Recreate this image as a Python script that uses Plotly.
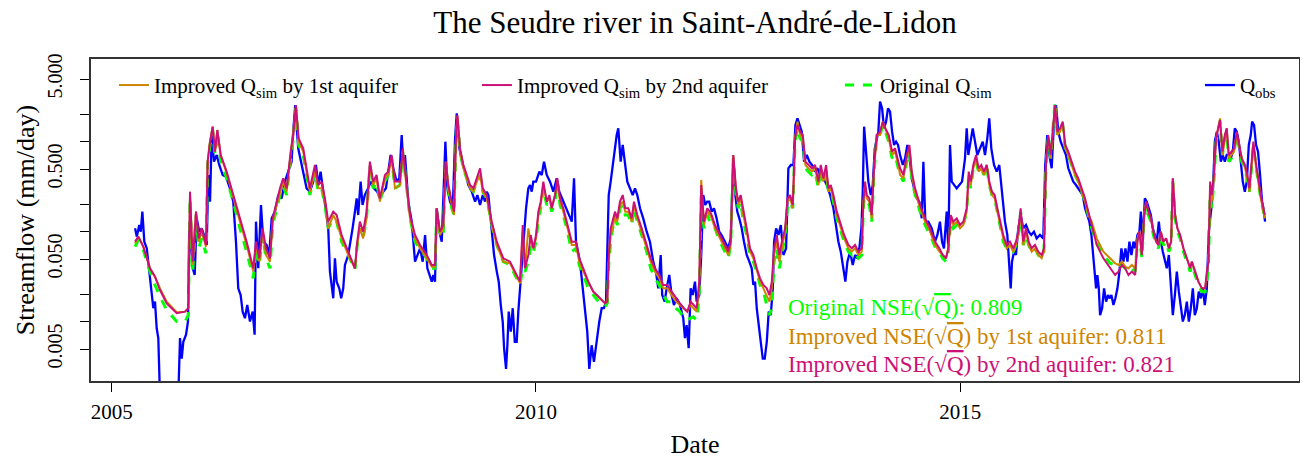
import plotly.graph_objects as go
import pandas as pd

# ---------------- data (decimal years, streamflow in mm/day) ----------------
sim_t = [2005.275, 2005.314, 2005.372, 2005.451, 2005.510, 2005.569, 2005.648, 2005.766, 2005.864, 2005.903,
         2005.923, 2005.955, 2005.994, 2006.025, 2006.061, 2006.111, 2006.131, 2006.159, 2006.190, 2006.218,
         2006.245, 2006.285, 2006.355, 2006.433, 2006.512, 2006.591, 2006.669, 2006.701, 2006.740, 2006.780,
         2006.819, 2006.866, 2006.898, 2006.945, 2006.984, 2007.022, 2007.063, 2007.110, 2007.140, 2007.172,
         2007.204, 2007.258, 2007.337, 2007.396, 2007.435, 2007.475, 2007.514, 2007.553, 2007.612, 2007.652,
         2007.711, 2007.789, 2007.868, 2007.895, 2007.926, 2007.965, 2008.005, 2008.044, 2008.083, 2008.123,
         2008.162, 2008.221, 2008.260, 2008.300, 2008.339, 2008.398, 2008.430, 2008.469, 2008.516, 2008.575,
         2008.634, 2008.713, 2008.772, 2008.810, 2008.830, 2008.869, 2008.908, 2008.936, 2008.967, 2009.007,
         2009.034, 2009.058, 2009.073, 2009.105, 2009.144, 2009.184, 2009.223, 2009.262, 2009.302, 2009.341,
         2009.373, 2009.420, 2009.479, 2009.538, 2009.615, 2009.694, 2009.753, 2009.812, 2009.844, 2009.871,
         2009.910, 2009.938, 2009.969, 2010.001, 2010.028, 2010.056, 2010.087, 2010.127, 2010.158, 2010.186,
         2010.225, 2010.252, 2010.284, 2010.323, 2010.363, 2010.422, 2010.472, 2010.511, 2010.558, 2010.617,
         2010.676, 2010.755, 2010.814, 2010.841, 2010.858, 2010.881, 2010.905, 2010.932, 2010.959, 2010.991,
         2011.023, 2011.053, 2011.089, 2011.129, 2011.156, 2011.195, 2011.247, 2011.306, 2011.353, 2011.403,
         2011.454, 2011.501, 2011.548, 2011.600, 2011.651, 2011.698, 2011.745, 2011.784, 2011.824, 2011.855,
         2011.895, 2011.926, 2011.949, 2011.981, 2012.020, 2012.051, 2012.072, 2012.111, 2012.169, 2012.228,
         2012.267, 2012.296, 2012.326, 2012.358, 2012.385, 2012.413, 2012.444, 2012.484, 2012.523, 2012.562,
         2012.602, 2012.641, 2012.680, 2012.720, 2012.751, 2012.779, 2012.806, 2012.838, 2012.868, 2012.897,
         2012.936, 2012.963, 2012.995, 2013.026, 2013.053, 2013.081, 2013.112, 2013.144, 2013.175, 2013.210,
         2013.250, 2013.289, 2013.328, 2013.356, 2013.387, 2013.419, 2013.446, 2013.474, 2013.505, 2013.545,
         2013.584, 2013.631, 2013.682, 2013.722, 2013.761, 2013.799, 2013.840, 2013.858, 2013.878, 2013.898,
         2013.929, 2013.957, 2013.985, 2014.016, 2014.055, 2014.087, 2014.118, 2014.158, 2014.197, 2014.232,
         2014.271, 2014.291, 2014.330, 2014.370, 2014.401, 2014.429, 2014.468, 2014.527, 2014.586, 2014.645,
         2014.703, 2014.754, 2014.794, 2014.833, 2014.860, 2014.889, 2014.919, 2014.959, 2014.998, 2015.037,
         2015.077, 2015.101, 2015.124, 2015.155, 2015.187, 2015.218, 2015.249, 2015.281, 2015.313, 2015.343,
         2015.375, 2015.407, 2015.438, 2015.470, 2015.508, 2015.548, 2015.587, 2015.626, 2015.658, 2015.685,
         2015.713, 2015.744, 2015.776, 2015.808, 2015.843, 2015.882, 2015.921, 2015.961, 2015.988, 2016.012,
         2016.039, 2016.067, 2016.091, 2016.118, 2016.145, 2016.177, 2016.209, 2016.239, 2016.274, 2016.315,
         2016.353, 2016.392, 2016.432, 2016.471, 2016.510, 2016.550, 2016.609, 2016.687, 2016.766, 2016.825,
         2016.864, 2016.904, 2016.943, 2016.982, 2017.022, 2017.061, 2017.088, 2017.111, 2017.140, 2017.167,
         2017.190, 2017.217, 2017.246, 2017.276, 2017.308, 2017.335, 2017.364, 2017.394, 2017.426, 2017.458,
         2017.485, 2017.505, 2017.532, 2017.559, 2017.591, 2017.630, 2017.670, 2017.709, 2017.729, 2017.768,
         2017.807, 2017.847, 2017.886, 2017.906, 2017.925, 2017.945, 2017.965, 2017.992, 2018.015, 2018.039,
         2018.062, 2018.090, 2018.118, 2018.141, 2018.165, 2018.196, 2018.227, 2018.259, 2018.283, 2018.318,
         2018.357, 2018.384, 2018.408, 2018.436, 2018.455, 2018.483, 2018.514, 2018.542, 2018.566, 2018.589]

q_imp2 = [0.0779, 0.0886, 0.0686, 0.0394, 0.0318, 0.0226, 0.0161, 0.0125, 0.0130, 0.0142,
          0.280, 0.0467, 0.168, 0.0848, 0.1096, 0.0715, 0.603, 1.006, 1.477, 0.779,
          1.356, 0.715, 0.467, 0.257, 0.1415, 0.0779, 0.0394, 0.0779, 0.0509, 0.1096,
          0.0657, 0.0509, 0.1415, 0.217, 0.305, 0.394, 0.305, 0.779, 1.193, 2.572,
          1.096, 0.848, 0.305, 0.554, 0.332, 0.362, 0.236, 0.130, 0.168, 0.154,
          0.0924, 0.0603, 0.0394, 0.0779, 0.130, 0.1006, 0.168, 0.603, 0.362, 0.429,
          0.236, 0.429, 0.467, 0.715, 0.362, 0.362, 0.848, 0.394, 0.154, 0.0924,
          0.0715, 0.0554, 0.0429, 0.0429, 0.183, 0.1006, 0.1193, 0.603, 0.332, 0.217,
          0.168, 1.300, 1.991, 0.848, 0.554, 0.429, 0.332, 0.305, 0.394, 0.509,
          0.305, 0.257, 0.130, 0.0779, 0.0509, 0.0467, 0.0362, 0.0280, 0.1193, 0.0394,
          0.0554, 0.0924, 0.0657, 0.0924, 0.168, 0.217, 0.362, 0.217, 0.257, 0.183,
          0.257, 0.394, 0.236, 0.183, 0.130, 0.0779, 0.0779, 0.0509, 0.0394, 0.0280,
          0.0217, 0.0183, 0.0161, 0.0168, 0.0554, 0.1096, 0.130, 0.168, 0.1415, 0.217,
          0.257, 0.183, 0.183, 0.1415, 0.217, 0.154, 0.1096, 0.0715, 0.0509, 0.0394,
          0.0332, 0.0257, 0.0257, 0.0217, 0.0183, 0.0161, 0.0142, 0.0130, 0.0168, 0.0154,
          0.0142, 0.0280, 0.332, 0.130, 0.183, 0.168, 0.154, 0.1193, 0.0924, 0.0715,
          0.0603, 0.0779, 0.715, 0.305, 0.217, 0.257, 0.168, 0.1096, 0.0657, 0.0554,
          0.0394, 0.0305, 0.0257, 0.0236, 0.0199, 0.0280, 0.0657, 0.0924, 0.0554, 0.0779,
          0.1096, 0.236, 0.257, 0.199, 1.096, 1.541, 1.300, 1.193, 0.603, 0.554,
          0.509, 0.554, 0.362, 0.554, 0.394, 0.554, 0.305, 0.332, 0.257, 0.168,
          0.130, 0.0924, 0.0715, 0.0657, 0.0715, 0.0603, 0.0657, 0.217, 0.362, 0.257,
          0.236, 0.154, 0.554, 1.193, 1.300, 1.679, 1.415, 1.193, 0.779, 0.848,
          0.603, 0.509, 0.429, 0.715, 0.924, 0.467, 0.305, 0.199, 0.1415, 0.1096,
          0.0779, 0.0657, 0.0554, 0.0509, 0.0657, 0.154, 0.130, 0.1415, 0.1193, 0.130,
          0.183, 0.467, 0.362, 0.554, 0.715, 0.509, 0.554, 0.467, 0.554, 0.362,
          0.280, 0.257, 0.183, 0.130, 0.0924, 0.0715, 0.0779, 0.0657, 0.0779, 0.1006,
          0.183, 0.0779, 0.1096, 0.0779, 0.0657, 0.0715, 0.0603, 0.0554, 0.0657, 0.603,
          1.193, 0.715, 1.300, 2.572, 1.300, 1.415, 1.679, 0.924, 0.779, 0.603,
          0.467, 0.394, 0.305, 0.236, 0.168, 0.1193, 0.0715, 0.0509, 0.0394, 0.0332,
          0.0362, 0.0429, 0.0394, 0.0332, 0.0362, 0.0332, 0.0779, 0.1006, 0.0554, 0.154,
          0.217, 0.168, 0.1415, 0.1006, 0.0779, 0.0715, 0.1006, 0.0779, 0.0848, 0.0657,
          0.0779, 0.394, 0.154, 0.1096, 0.0924, 0.0657, 0.0509, 0.0394, 0.0467, 0.0362,
          0.0280, 0.0236, 0.0236, 0.0362, 0.0467, 0.362, 0.257, 0.467, 1.096, 1.415,
          1.752, 0.779, 1.193, 1.415, 0.715, 0.779, 0.848, 1.300, 1.006, 0.657,
          0.554, 0.429, 0.305, 0.603, 1.006, 0.603, 0.362, 0.257, 0.199, 0.154]

q_imp1 = [0.0746, 0.0886, 0.0686, 0.0394, 0.0318, 0.0236, 0.0168, 0.0128, 0.0130, 0.0142,
          0.257, 0.0429, 0.168, 0.0779, 0.1006, 0.0686, 0.603, 1.006, 1.477, 0.779,
          1.356, 0.715, 0.448, 0.236, 0.130, 0.0715, 0.0362, 0.0715, 0.0467, 0.1006,
          0.0554, 0.0467, 0.130, 0.199, 0.280, 0.362, 0.280, 0.715, 1.096, 2.47,
          1.006, 0.779, 0.280, 0.467, 0.305, 0.305, 0.217, 0.1096, 0.154, 0.130,
          0.0848, 0.0554, 0.0394, 0.0715, 0.1096, 0.0848, 0.1415, 0.554, 0.332, 0.394,
          0.217, 0.394, 0.429, 0.657, 0.305, 0.332, 0.779, 0.362, 0.1415, 0.0848,
          0.0657, 0.0509, 0.0411, 0.0411, 0.183, 0.0924, 0.1096, 0.603, 0.305, 0.199,
          0.154, 1.245, 1.908, 0.779, 0.509, 0.394, 0.305, 0.280, 0.362, 0.429,
          0.280, 0.236, 0.1193, 0.0715, 0.0467, 0.0448, 0.0347, 0.0268, 0.1006, 0.0394,
          0.1096, 0.0779, 0.0657, 0.0848, 0.154, 0.199, 0.332, 0.217, 0.236, 0.183,
          0.257, 0.362, 0.217, 0.168, 0.1193, 0.0715, 0.0715, 0.0467, 0.0362, 0.0280,
          0.0217, 0.0183, 0.0161, 0.0168, 0.0467, 0.0924, 0.1096, 0.154, 0.130, 0.199,
          0.217, 0.168, 0.168, 0.130, 0.199, 0.1415, 0.1006, 0.0657, 0.0467, 0.0362,
          0.0305, 0.0236, 0.0236, 0.0199, 0.0168, 0.0154, 0.0142, 0.0130, 0.0154, 0.0142,
          0.0130, 0.0236, 0.378, 0.1193, 0.168, 0.154, 0.1415, 0.1096, 0.0848, 0.0657,
          0.0554, 0.0715, 0.715, 0.280, 0.199, 0.236, 0.154, 0.1006, 0.0603, 0.0509,
          0.0362, 0.0280, 0.0236, 0.0199, 0.0168, 0.0236, 0.0554, 0.0779, 0.0467, 0.0657,
          0.1006, 0.217, 0.236, 0.183, 1.096, 1.679, 1.193, 1.096, 0.554, 0.509,
          0.467, 0.509, 0.332, 0.509, 0.362, 0.509, 0.280, 0.305, 0.236, 0.154,
          0.1193, 0.0848, 0.0657, 0.0603, 0.0657, 0.0554, 0.0603, 0.199, 0.332, 0.236,
          0.217, 0.1415, 0.509, 1.193, 1.193, 1.679, 1.415, 1.096, 0.715, 0.779,
          0.554, 0.429, 0.394, 0.657, 0.848, 0.429, 0.280, 0.183, 0.130, 0.1006,
          0.0715, 0.0603, 0.0554, 0.0509, 0.0657, 0.1415, 0.1193, 0.130, 0.1096, 0.1193,
          0.168, 0.429, 0.332, 0.509, 0.657, 0.467, 0.509, 0.429, 0.554, 0.332,
          0.257, 0.236, 0.168, 0.1193, 0.0848, 0.0657, 0.0715, 0.0603, 0.0715, 0.0924,
          0.168, 0.0715, 0.1006, 0.0715, 0.0603, 0.0657, 0.0554, 0.0509, 0.0603, 0.554,
          1.143, 0.657, 1.193, 2.572, 1.193, 1.300, 1.610, 0.848, 0.715, 0.554,
          0.429, 0.362, 0.280, 0.217, 0.154, 0.130, 0.0848, 0.0603, 0.0509, 0.0448,
          0.0429, 0.0467, 0.0411, 0.0394, 0.0429, 0.0394, 0.0848, 0.1006, 0.0554, 0.154,
          0.217, 0.168, 0.1415, 0.1006, 0.0779, 0.0715, 0.1006, 0.0779, 0.0848, 0.0657,
          0.0779, 0.394, 0.154, 0.1096, 0.0924, 0.0657, 0.0509, 0.0394, 0.0467, 0.0362,
          0.0280, 0.0236, 0.0236, 0.0332, 0.0467, 0.305, 0.217, 0.429, 1.096, 1.415,
          1.828, 0.715, 1.096, 1.415, 0.657, 0.715, 0.779, 1.193, 0.924, 0.657,
          0.509, 0.394, 0.280, 0.554, 0.924, 0.554, 0.332, 0.236, 0.183, 0.1415]

q_orig = [0.0686, 0.0813, 0.0630, 0.0362, 0.0257, 0.0191, 0.0136, 0.0101, 0.0101, 0.0119,
          0.236, 0.0362, 0.154, 0.0657, 0.0848, 0.0578, 0.554, 0.924, 1.356, 0.715,
          1.245, 0.603, 0.394, 0.217, 0.1096, 0.0603, 0.0305, 0.0657, 0.0429, 0.0924,
          0.0509, 0.0394, 0.1193, 0.183, 0.257, 0.318, 0.257, 0.657, 1.050, 2.362,
          0.924, 0.715, 0.257, 0.467, 0.280, 0.305, 0.199, 0.1096, 0.1415, 0.130,
          0.0779, 0.0554, 0.0378, 0.0715, 0.1096, 0.0848, 0.1415, 0.554, 0.305, 0.362,
          0.217, 0.362, 0.429, 0.657, 0.305, 0.332, 0.779, 0.362, 0.1415, 0.0779,
          0.0657, 0.0509, 0.0394, 0.0394, 0.168, 0.0886, 0.1006, 0.554, 0.305, 0.183,
          0.154, 1.193, 1.828, 0.779, 0.509, 0.394, 0.305, 0.280, 0.362, 0.429,
          0.280, 0.236, 0.1193, 0.0715, 0.0467, 0.0429, 0.0332, 0.0257, 0.0394, 0.0362,
          0.0467, 0.0715, 0.0603, 0.0779, 0.1415, 0.183, 0.305, 0.199, 0.217, 0.168,
          0.217, 0.362, 0.199, 0.154, 0.1096, 0.0603, 0.0657, 0.0429, 0.0332, 0.0236,
          0.0199, 0.0161, 0.0148, 0.0161, 0.0429, 0.0779, 0.1096, 0.1415, 0.1193, 0.183,
          0.199, 0.154, 0.154, 0.1193, 0.183, 0.130, 0.0924, 0.0603, 0.0394, 0.0305,
          0.0257, 0.0199, 0.0168, 0.0168, 0.0142, 0.0130, 0.0110, 0.0105, 0.0110, 0.0114,
          0.0105, 0.0199, 0.257, 0.1096, 0.154, 0.130, 0.130, 0.1096, 0.0779, 0.0603,
          0.0509, 0.0715, 0.657, 0.257, 0.183, 0.217, 0.130, 0.0924, 0.0554, 0.0467,
          0.0362, 0.0257, 0.0217, 0.0154, 0.0119, 0.0142, 0.0467, 0.0657, 0.0394, 0.0554,
          0.0924, 0.183, 0.217, 0.183, 1.006, 1.415, 1.096, 1.006, 0.509, 0.467,
          0.429, 0.467, 0.305, 0.509, 0.332, 0.467, 0.280, 0.280, 0.217, 0.1415,
          0.1096, 0.0779, 0.0603, 0.0554, 0.0603, 0.0509, 0.0554, 0.183, 0.305, 0.217,
          0.199, 0.130, 0.467, 1.096, 1.193, 1.541, 1.300, 1.006, 0.657, 0.715,
          0.509, 0.429, 0.362, 0.603, 0.779, 0.394, 0.257, 0.168, 0.1193, 0.0924,
          0.0686, 0.0603, 0.0509, 0.0467, 0.0603, 0.130, 0.1096, 0.1193, 0.1096, 0.1193,
          0.168, 0.429, 0.305, 0.509, 0.603, 0.467, 0.509, 0.429, 0.554, 0.332,
          0.257, 0.236, 0.168, 0.1193, 0.0779, 0.0657, 0.0657, 0.0603, 0.0715, 0.0924,
          0.168, 0.0715, 0.0924, 0.0715, 0.0603, 0.0657, 0.0554, 0.0509, 0.0603, 0.554,
          1.096, 0.657, 1.193, 2.800, 1.193, 1.300, 1.541, 0.848, 0.715, 0.554,
          0.429, 0.362, 0.280, 0.217, 0.154, 0.1096, 0.0746, 0.0554, 0.0448, 0.0429,
          0.0394, 0.0429, 0.0394, 0.0362, 0.0394, 0.0362, 0.0779, 0.0924, 0.0509, 0.1415,
          0.199, 0.154, 0.130, 0.0924, 0.0715, 0.0657, 0.0924, 0.0715, 0.0779, 0.0603,
          0.0715, 0.362, 0.1415, 0.1006, 0.0848, 0.0603, 0.0467, 0.0362, 0.0429, 0.0332,
          0.0257, 0.0217, 0.0217, 0.0280, 0.0394, 0.257, 0.183, 0.394, 1.006, 1.300,
          1.679, 0.715, 1.096, 1.300, 0.603, 0.657, 0.779, 1.193, 0.924, 0.603,
          0.509, 0.362, 0.280, 0.554, 0.924, 0.554, 0.332, 0.236, 0.183, 0.1415]

obs_t = [2005.275, 2005.295, 2005.325, 2005.342, 2005.361, 2005.384, 2005.413, 2005.443, 2005.471, 2005.490,
         2005.510, 2005.530, 2005.549, 2005.569, 2005.785, 2005.805, 2005.825, 2005.844, 2005.876, 2005.899,
         2005.915, 2005.935, 2005.955, 2005.978, 2006.002, 2006.032, 2006.061, 2006.088, 2006.120, 2006.139,
         2006.159, 2006.179, 2006.206, 2006.238, 2006.268, 2006.308, 2006.347, 2006.394, 2006.433, 2006.465,
         2006.492, 2006.520, 2006.544, 2006.571, 2006.598, 2006.630, 2006.662, 2006.685, 2006.701, 2006.728,
         2006.760, 2006.787, 2006.827, 2006.857, 2006.886, 2006.925, 2006.964, 2007.004, 2007.042, 2007.081,
         2007.121, 2007.140, 2007.164, 2007.199, 2007.239, 2007.278, 2007.298, 2007.337, 2007.376, 2007.408,
         2007.435, 2007.463, 2007.494, 2007.526, 2007.553, 2007.573, 2007.593, 2007.612, 2007.632, 2007.652,
         2007.683, 2007.706, 2007.730, 2007.750, 2007.789, 2007.817, 2007.840, 2007.868, 2007.888, 2007.906,
         2007.935, 2007.958, 2007.985, 2008.024, 2008.053, 2008.092, 2008.130, 2008.162, 2008.201, 2008.233,
         2008.260, 2008.288, 2008.319, 2008.359, 2008.390, 2008.418, 2008.437, 2008.457, 2008.496, 2008.536,
         2008.575, 2008.602, 2008.634, 2008.665, 2008.693, 2008.720, 2008.743, 2008.772, 2008.790, 2008.810,
         2008.830, 2008.861, 2008.889, 2008.917, 2008.932, 2008.955, 2008.987, 2009.019, 2009.046, 2009.066,
         2009.097, 2009.137, 2009.164, 2009.203, 2009.243, 2009.282, 2009.309, 2009.341, 2009.373, 2009.400,
         2009.420, 2009.439, 2009.479, 2009.506, 2009.538, 2009.561, 2009.585, 2009.608, 2009.624, 2009.647,
         2009.663, 2009.679, 2009.703, 2009.726, 2009.750, 2009.773, 2009.792, 2009.812, 2009.832, 2009.851,
         2009.883, 2009.910, 2009.930, 2009.950, 2009.969, 2010.001, 2010.016, 2010.040, 2010.068, 2010.095,
         2010.127, 2010.166, 2010.205, 2010.245, 2010.275, 2010.307, 2010.343, 2010.382, 2010.422, 2010.449,
         2010.472, 2010.519, 2010.551, 2010.578, 2010.605, 2010.629, 2010.657, 2010.684, 2010.716, 2010.747,
         2010.775, 2010.802, 2010.826, 2010.841, 2010.858, 2010.881, 2010.905, 2010.932, 2010.952, 2010.971,
         2010.999, 2011.023, 2011.050, 2011.077, 2011.109, 2011.141, 2011.168, 2011.195, 2011.227, 2011.265,
         2011.306, 2011.344, 2011.383, 2011.415, 2011.442, 2011.471, 2011.489, 2011.518, 2011.541, 2011.572,
         2011.600, 2011.627, 2011.659, 2011.698, 2011.737, 2011.757, 2011.777, 2011.801, 2011.824, 2011.848,
         2011.875, 2011.895, 2011.926, 2011.949, 2011.973, 2011.996, 2012.020, 2012.043, 2012.072, 2012.099,
         2012.130, 2012.161, 2012.189, 2012.228, 2012.267, 2012.296, 2012.326, 2012.350, 2012.373, 2012.397,
         2012.425, 2012.452, 2012.484, 2012.515, 2012.543, 2012.562, 2012.582, 2012.602, 2012.626, 2012.649,
         2012.673, 2012.696, 2012.720, 2012.743, 2012.767, 2012.791, 2012.806, 2012.830, 2012.857, 2012.885,
         2012.916, 2012.947, 2012.974, 2013.003, 2013.033, 2013.057, 2013.081, 2013.104, 2013.132, 2013.159,
         2013.191, 2013.222, 2013.254, 2013.286, 2013.316, 2013.348, 2013.387, 2013.427, 2013.466, 2013.505,
         2013.537, 2013.564, 2013.592, 2013.623, 2013.646, 2013.670, 2013.702, 2013.733, 2013.761, 2013.788,
         2013.811, 2013.835, 2013.851, 2013.867, 2013.890, 2013.917, 2013.946, 2013.969, 2013.993, 2014.016,
         2014.035, 2014.055, 2014.079, 2014.102, 2014.126, 2014.149, 2014.173, 2014.197, 2014.220, 2014.244,
         2014.267, 2014.291, 2014.323, 2014.350, 2014.377, 2014.401, 2014.429, 2014.456, 2014.488, 2014.518,
         2014.547, 2014.566, 2014.589, 2014.624, 2014.665, 2014.703, 2014.731, 2014.762, 2014.786, 2014.809,
         2014.841, 2014.860, 2014.880, 2014.900, 2014.927, 2014.959, 2014.990, 2015.022, 2015.057, 2015.077,
         2015.096, 2015.124, 2015.148, 2015.175, 2015.202, 2015.234, 2015.266, 2015.293, 2015.320, 2015.343,
         2015.367, 2015.399, 2015.431, 2015.461, 2015.493, 2015.528, 2015.556, 2015.579, 2015.596, 2015.611,
         2015.635, 2015.658, 2015.685, 2015.713, 2015.744, 2015.776, 2015.808, 2015.838, 2015.870, 2015.902,
         2015.941, 2015.980, 2016.003, 2016.027, 2016.051, 2016.079, 2016.106, 2016.130, 2016.157, 2016.185,
         2016.216, 2016.247, 2016.274, 2016.303, 2016.333, 2016.365, 2016.392, 2016.421, 2016.444, 2016.471,
         2016.498, 2016.522, 2016.546, 2016.569, 2016.586, 2016.601, 2016.616, 2016.633, 2016.648, 2016.672,
         2016.695, 2016.719, 2016.742, 2016.758, 2016.781, 2016.805, 2016.828, 2016.852, 2016.876, 2016.899,
         2016.923, 2016.946, 2016.970, 2016.993, 2017.017, 2017.041, 2017.064, 2017.088, 2017.111, 2017.128,
         2017.151, 2017.175, 2017.198, 2017.222, 2017.246, 2017.269, 2017.293, 2017.316, 2017.340, 2017.364,
         2017.387, 2017.411, 2017.434, 2017.458, 2017.481, 2017.505, 2017.529, 2017.552, 2017.576, 2017.599,
         2017.623, 2017.646, 2017.670, 2017.694, 2017.717, 2017.741, 2017.764, 2017.788, 2017.811, 2017.835,
         2017.859, 2017.882, 2017.906, 2017.929, 2017.953, 2017.976, 2018.000, 2018.024, 2018.047, 2018.071,
         2018.094, 2018.118, 2018.141, 2018.165, 2018.189, 2018.212, 2018.236, 2018.259, 2018.283, 2018.306,
         2018.330, 2018.354, 2018.377, 2018.401, 2018.424, 2018.440, 2018.463, 2018.487, 2018.510, 2018.534,
         2018.557, 2018.573, 2018.593]

q_obs = [0.1096, 0.0886, 0.1193, 0.1006, 0.168, 0.0779, 0.0657, 0.0362, 0.0236, 0.0142,
         0.0168, 0.0085, 0.0066, 0.0015, 0.0015, 0.0066, 0.0039, 0.0060, 0.0072, 0.0101,
         0.130, 0.0779, 0.0394, 0.0332, 0.1415, 0.1006, 0.1096, 0.0924, 0.0715, 0.429,
         0.217, 1.193, 0.603, 0.715, 0.554, 0.429, 0.411, 0.305, 0.217, 0.0779,
         0.0236, 0.0199, 0.0130, 0.0110, 0.0154, 0.0101, 0.0130, 0.0072, 0.130, 0.0394,
         0.199, 0.0779, 0.0715, 0.0554, 0.1415, 0.168, 0.257, 0.236, 0.362, 0.467,
         0.603, 1.300, 2.572, 0.848, 0.554, 0.362, 0.305, 0.280, 0.362, 0.554,
         0.332, 0.467, 0.280, 0.154, 0.1096, 0.0362, 0.0236, 0.0183, 0.0509, 0.0280,
         0.0236, 0.0183, 0.0236, 0.0429, 0.0554, 0.0779, 0.1096, 0.168, 0.236, 0.154,
         0.362, 0.199, 0.257, 0.305, 0.362, 0.305, 0.280, 0.236, 0.280, 0.305,
         0.467, 0.715, 0.509, 0.362, 0.394, 1.193, 0.554, 0.715, 0.217, 0.130,
         0.0467, 0.0554, 0.0657, 0.0467, 0.0924, 0.0394, 0.0332, 0.0280, 0.0332, 0.0280,
         0.183, 0.1006, 0.0779, 0.362, 1.006, 0.305, 0.217, 0.183, 1.096, 2.077,
         0.848, 0.554, 0.467, 0.332, 0.280, 0.217, 0.257, 0.199, 0.257, 0.217,
         0.280, 0.257, 0.1096, 0.0554, 0.0362, 0.0280, 0.0154, 0.0101, 0.0051, 0.0030,
         0.0055, 0.0130, 0.0078, 0.0142, 0.0060, 0.0060, 0.0130, 0.0236, 0.0429, 0.0779,
         0.183, 0.305, 0.332, 0.280, 0.362, 0.362, 0.394, 0.467, 0.429, 0.603,
         0.429, 0.362, 0.280, 0.394, 0.280, 0.236, 0.199, 0.154, 0.130, 0.394,
         0.0779, 0.0467, 0.0236, 0.0119, 0.0078, 0.0030, 0.0055, 0.0036, 0.0066, 0.0101,
         0.0142, 0.0142, 0.0168, 0.0554, 0.257, 0.362, 0.554, 0.779, 1.193, 1.415,
         0.603, 0.924, 0.554, 0.362, 0.305, 0.257, 0.305, 0.257, 0.183, 0.1415,
         0.1006, 0.0779, 0.0467, 0.0362, 0.0236, 0.0554, 0.0199, 0.0168, 0.0236, 0.0332,
         0.0199, 0.0154, 0.0183, 0.0154, 0.0110, 0.0066, 0.0092, 0.0051, 0.0236, 0.0199,
         0.0280, 0.0168, 0.0199, 0.0554, 0.257, 0.199, 0.217, 0.217, 0.168, 0.183,
         0.1415, 0.1006, 0.0924, 0.0779, 0.0657, 0.0848, 0.657, 0.257, 0.168, 0.1415,
         0.1096, 0.0779, 0.0554, 0.0467, 0.0394, 0.0257, 0.0280, 0.0142, 0.0085, 0.0060,
         0.0039, 0.0039, 0.0060, 0.0130, 0.0119, 0.0236, 0.0779, 0.1096, 0.0924, 0.1193,
         0.0554, 0.0657, 0.509, 0.554, 0.554, 1.541, 1.828, 1.541, 1.300, 0.603,
         0.715, 0.603, 0.554, 0.467, 0.509, 0.429, 0.394, 0.332, 0.257, 0.183,
         0.1096, 0.0779, 0.0603, 0.0394, 0.0280, 0.0467, 0.0603, 0.0429, 0.0554, 0.0509,
         0.0657, 0.1096, 0.280, 1.477, 0.715, 0.362, 0.257, 0.332, 0.848, 1.096,
         1.300, 2.800, 2.362, 1.415, 1.679, 2.362, 2.168, 1.300, 0.924, 1.006,
         0.924, 0.715, 0.554, 0.657, 0.924, 0.715, 0.394, 0.305, 0.236, 0.217,
         0.1415, 0.603, 0.130, 0.130, 0.1096, 0.0779, 0.0924, 0.130, 0.0779, 0.0657,
         0.168, 0.0657, 0.924, 0.362, 0.332, 0.305, 0.332, 0.362, 0.657, 1.415,
         0.715, 1.096, 1.415, 1.006, 0.715, 0.848, 1.006, 0.715, 1.096, 1.828,
         0.848, 0.554, 0.467, 0.554, 0.257, 0.130, 0.0924, 0.0467, 0.0236, 0.0467,
         0.0603, 0.0554, 0.1096, 0.154, 0.1096, 0.1193, 0.1006, 0.0924, 0.1006, 0.0848,
         0.0924, 0.0848, 0.554, 1.193, 0.715, 0.509, 1.679, 2.572, 1.300, 1.006,
         0.848, 0.715, 0.509, 0.429, 0.362, 0.332, 0.305, 0.280, 0.257, 0.183,
         0.154, 0.130, 0.0924, 0.0554, 0.0394, 0.0236, 0.0332, 0.0236, 0.0119, 0.0142,
         0.0236, 0.0168, 0.0199, 0.0183, 0.0199, 0.0154, 0.0183, 0.0236, 0.0362, 0.0657,
         0.0467, 0.0657, 0.0467, 0.0779, 0.0554, 0.0779, 0.0657, 0.0924, 0.1006, 0.168,
         0.0779, 0.236, 0.217, 0.183, 0.154, 0.1096, 0.0924, 0.0779, 0.130, 0.0779,
         0.0603, 0.0467, 0.0394, 0.0554, 0.0236, 0.0119, 0.0199, 0.0362, 0.0217, 0.0142,
         0.0101, 0.0119, 0.0168, 0.0101, 0.0142, 0.0236, 0.0119, 0.0142, 0.0217, 0.0183,
         0.0236, 0.0154, 0.0236, 0.1006, 0.154, 0.257, 1.006, 1.300, 1.006, 0.603,
         0.715, 0.603, 0.715, 0.715, 0.657, 0.779, 1.415, 1.300, 1.006, 0.603,
         0.362, 0.280, 0.362, 0.924, 1.193, 1.679, 1.541, 0.924, 0.779, 0.429,
         0.217, 0.183, 0.130]

x_tick_years = [2005, 2010, 2015]
y_major_vals = [0.005, 0.05, 0.5, 5]
y_major_text = ["0.005", "0.050", "0.500", "5.000"]
y_minor_vals = [0.01, 0.02, 0.1, 0.2, 1, 2]
nse_orig, nse_imp1, nse_imp2 = "0.809", "0.811", "0.821"

# ---------------- helpers ----------------
def to_date(t):
    y = int(t)
    start = pd.Timestamp(year=y, month=1, day=1)
    end = pd.Timestamp(year=y + 1, month=1, day=1)
    return start + (end - start) * (t - y)

sim_dates = [to_date(t) for t in sim_t]
obs_dates = [to_date(t) for t in obs_t]

FONT = "Liberation Serif"
C_IMP1 = "#CD8500"
C_IMP2 = "#CD1076"
C_ORIG = "#00FF00"
C_OBS = "#0000FF"

fig = go.Figure()
fig.add_trace(go.Scatter(x=obs_dates, y=q_obs, mode="lines", name="Q<sub>obs</sub>",
                         line=dict(color=C_OBS, width=2.3), legend="legend2"))
fig.add_trace(go.Scatter(x=sim_dates, y=q_orig, mode="lines", name="Original Q<sub>sim</sub>",
                         line=dict(color=C_ORIG, width=3, dash="dash"), legendrank=3))
fig.add_trace(go.Scatter(x=sim_dates, y=q_imp1, mode="lines", name="Improved Q<sub>sim</sub> by 1st aquifer",
                         line=dict(color=C_IMP1, width=2), legendrank=1))
fig.add_trace(go.Scatter(x=sim_dates, y=q_imp2, mode="lines", name="Improved Q<sub>sim</sub> by 2nd aquifer",
                         line=dict(color=C_IMP2, width=2), legendrank=2))

OV = '<span style="text-decoration:overline">Q</span>'
ann = [
    ("Original NSE(√" + OV + "): " + nse_orig, C_ORIG, 0.227),
    ("Improved NSE(√" + OV + ") by 1st aquifer: " + nse_imp1, C_IMP1, 0.137),
    ("Improved NSE(√" + OV + ") by 2nd aquifer: " + nse_imp2, C_IMP2, 0.050),
]
for txt, col, yy in ann:
    fig.add_annotation(text=txt, xref="paper", yref="paper", x=0.5757, y=yy,
                       xanchor="left", yanchor="middle", showarrow=False,
                       font=dict(family=FONT, size=23, color=col))

leg_common = dict(orientation="h", yanchor="middle", xanchor="left",
                  bgcolor="rgba(0,0,0,0)", borderwidth=0,
                  font=dict(family=FONT, size=21, color="black"), itemwidth=30)

# the page body adds an 8 px offset, so the figure is 8 px smaller than the window
fig.update_layout(
    width=1300, height=453,
    margin=dict(l=83, r=9, t=51, b=80, autoexpand=False),
    paper_bgcolor="white", plot_bgcolor="white",
    font=dict(family=FONT, color="black"),
    title=dict(text="The Seudre river in Saint-André-de-Lidon", x=0.5, xref="paper",
               y=0.969, yref="container", yanchor="middle",
               font=dict(family=FONT, size=31, color="black")),
    showlegend=True,
    legend=dict(x=0.019, y=0.918, entrywidth=318, entrywidthmode="pixels", **leg_common),
    legend2=dict(x=0.918, y=0.918, **leg_common),
)
fig.update_xaxes(
    type="date", automargin=False,
    range=[to_date(2004.756), to_date(2018.993)],
    tickvals=[to_date(y) for y in x_tick_years],
    ticktext=[str(y) for y in x_tick_years],
    ticks="outside", ticklen=9, tickcolor="black", tickwidth=1, ticklabelstandoff=2,
    showgrid=False, zeroline=False,
    showline=True, mirror=True, linecolor="#333333", linewidth=1.5,
    tickfont=dict(family=FONT, size=21, color="black"),
    title=dict(text="Date", font=dict(family=FONT, size=26, color="black"), standoff=12),
)
fig.update_yaxes(
    type="log", automargin=False,
    range=[-2.6566, 0.9212],
    tickvals=y_major_vals, ticktext=y_major_text, tickangle=-90,
    ticks="outside", ticklen=9, tickcolor="black", tickwidth=1, ticklabelstandoff=10,
    minor=dict(tickvals=y_minor_vals, ticks="outside", ticklen=9, tickcolor="black", tickwidth=1,
               showgrid=False),
    showgrid=False, zeroline=False,
    showline=True, mirror=True, linecolor="#333333", linewidth=1.5,
    tickfont=dict(family=FONT, size=20, color="black"),
    title=dict(text="Streamflow (mm/day)", font=dict(family=FONT, size=26, color="black"), standoff=2),
)

fig.write_html("out.html")
